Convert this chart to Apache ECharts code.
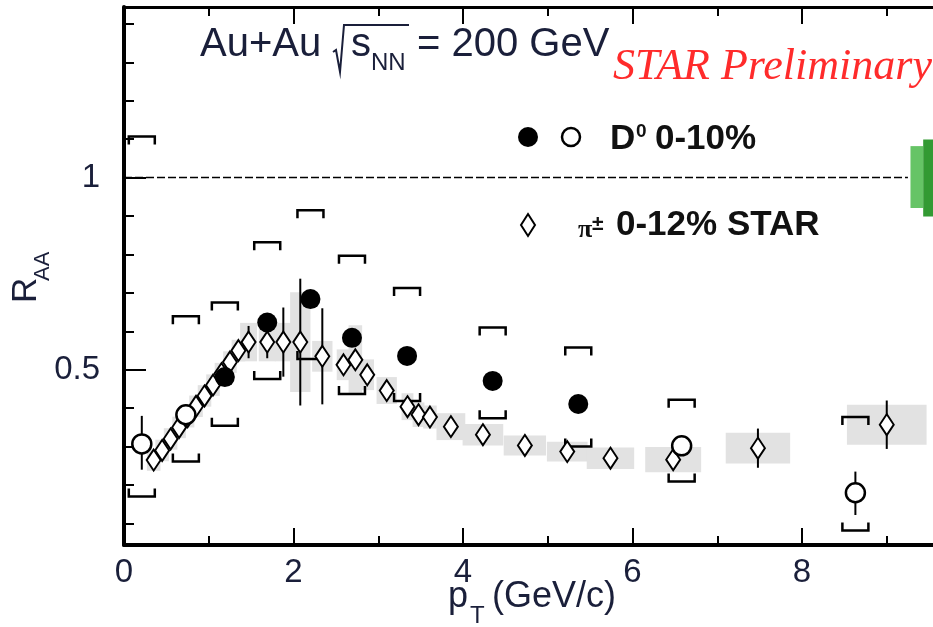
<!DOCTYPE html>
<html><head><meta charset="utf-8">
<script src="https://cdn.jsdelivr.net/npm/echarts@6/dist/echarts.min.js"></script>
<style>html,body{margin:0;padding:0;background:#fff}#c{width:933px;height:627px}</style>
</head><body><div id="c"></div>
<script>
// ---------------- data ----------------
const xTickLabels = [0, 2, 4, 6, 8];
const yMajorTicks = [0.5, 1];
const yMinorTicks = [0.1, 0.2, 0.3, 0.4, 0.6, 0.7, 0.8, 0.9, 1.1, 1.2, 1.3, 1.4];

// charged pions 0-12% (STAR)
const piX    = [0.35,0.45,0.55,0.65,0.75,0.85,0.95,1.05,1.15,1.25,1.35,1.47,1.69,1.88,2.08,2.34,2.59,2.73,2.87,3.10,3.345,3.475,3.61,3.857,4.235,4.73,5.23,5.74,6.48,7.48,9.0];
const piY    = [0.265,0.29,0.32,0.35,0.378,0.405,0.432,0.46,0.49,0.52,0.55,0.572,0.572,0.572,0.572,0.535,0.513,0.526,0.487,0.446,0.404,0.383,0.377,0.352,0.331,0.303,0.287,0.27,0.266,0.296,0.357];
const piStat = [0,0,0,0,0,0,0,0,0,0,0,0.042,0.042,0.09,0.165,0.125,0,0,0,0,0,0,0,0,0,0,0,0,0,0.051,0.063];
const piSys  = [0.028,0.028,0.028,0.028,0.028,0.028,0.028,0.028,0.028,0.028,0.028,0.05,0.05,0.05,0.13,0.04,0.04,0.09,0.04,0.035,0.035,0.032,0.03,0.035,0.028,0.026,0.026,0.028,0.033,0.04,0.052];
const piBinHalf = [0.08,0.08,0.08,0.08,0.08,0.08,0.08,0.08,0.08,0.08,0.08,0.1,0.1,0.1,0.12,0.12,0.08,0.08,0.08,0.12,0.07,0.07,0.08,0.17,0.24,0.25,0.24,0.28,0.33,0.38,0.47];

// D0 0-10%, filled points
const dX     = [1.19,1.69,2.20,2.69,3.34,4.35,5.36];
const dY     = [0.481,0.623,0.684,0.583,0.536,0.471,0.411];
const dSysLo = [0.354,0.476,0.528,0.437,0.419,0.374,0.300];
const dSysHi = [0.675,0.832,0.915,0.797,0.713,0.610,0.558];

// D0 0-10%, open points
const oX      = [0.21,0.73,6.58,8.63];
const oY      = [0.307,0.383,0.302,0.180];
const oStatLo = [0.240,0.383,0.302,0.122];
const oStatHi = [0.380,0.383,0.302,0.235];
const oSysLo  = [0.170,0.261,0.209,0.082];
const oSysHi  = [1.107,0.639,0.422,0.377];

// normalisation uncertainty boxes [x0, x1, y0, y1]
const normBoxes = [[9.28, 9.43, 0.921, 1.082], [9.43, 9.62, 0.899, 1.099]];
const normColors = ['#66c466', '#339a33'];

const refLine = [[0, 1], [9.25, 1]];

// ---------------- chart ----------------
const FONT = '"Liberation Sans", Arial, Helvetica, sans-serif';
const TXT = '#1a1f3a';
const chart = echarts.init(document.getElementById('c'), null, {renderer: 'canvas'});

const boxData = piX.map((x, i) => [x - piBinHalf[i], x + piBinHalf[i], piY[i] - piSys[i], piY[i] + piSys[i]]);
const normData = normBoxes.map((b, i) => ({value: b, itemStyle: {color: normColors[i]}}));
const piErrData = piX.map((x, i) => [x, piY[i] - piStat[i], piY[i] + piStat[i]]).filter((d, i) => piStat[i] > 0);
const oErrData = oX.map((x, i) => [x, oStatLo[i], oStatHi[i]]).filter(d => d[2] > d[1]);
const bracketData = dX.map((x, i) => [x, dSysLo[i], dSysHi[i]]).concat(oX.map((x, i) => [x, oSysLo[i], oSysHi[i]]));

function rectItem(params, api) {
  const p0 = api.coord([api.value(0), api.value(3)]);
  const p1 = api.coord([api.value(1), api.value(2)]);
  return {type: 'rect', shape: {x: p0[0], y: p0[1], width: p1[0] - p0[0], height: p1[1] - p0[1]},
          style: {fill: api.visual('color')}};
}
function errItem(params, api) {
  const a = api.coord([api.value(0), api.value(1)]);
  const b = api.coord([api.value(0), api.value(2)]);
  return {type: 'line', shape: {x1: a[0], y1: a[1], x2: b[0], y2: b[1]}, style: {stroke: '#000', lineWidth: 2}};
}
function bracketItem(params, api) {
  const lo = api.coord([api.value(0), api.value(1)]);
  const hi = api.coord([api.value(0), api.value(2)]);
  const w = 13, t = 8, cx = lo[0];
  return {type: 'group', children: [
    {type: 'polyline', shape: {points: [[cx - w, hi[1] + t], [cx - w, hi[1]], [cx + w, hi[1]], [cx + w, hi[1] + t]]},
     style: {stroke: '#000', lineWidth: 2.5, fill: null}},
    {type: 'polyline', shape: {points: [[cx - w, lo[1] - t], [cx - w, lo[1]], [cx + w, lo[1]], [cx + w, lo[1] - t]]},
     style: {stroke: '#000', lineWidth: 2.5, fill: null}}
  ]};
}

const xBase = {
  type: 'value', min: 0, max: 10, interval: 2,
  splitLine: {show: false},
  axisTick: {inside: true, length: 17, lineStyle: {color: '#000', width: 2}},
  minorTick: {show: true, splitNumber: 2, length: 9, lineStyle: {color: '#000', width: 2}},
};

const option = {
  animation: false,
  backgroundColor: '#fff',
  grid: {left: 124, top: 7, width: 847.5, height: 538, containLabel: false, outerBoundsMode: 'none'},
  xAxis: [
    Object.assign({}, xBase, {
      position: 'bottom',
      axisLine: {lineStyle: {color: '#000', width: 4}},
      axisLabel: {fontSize: 33, color: TXT, fontFamily: FONT, margin: 11,
                  formatter: v => (xTickLabels.indexOf(v) >= 0 ? String(v) : '')}
    }),
    Object.assign({}, xBase, {
      position: 'top',
      axisLine: {lineStyle: {color: '#000', width: 3}},
      axisLabel: {show: false}
    })
  ],
  yAxis: [
    {type: 'value', min: 0.044, max: 1.444, position: 'left',
     splitLine: {show: false},
     axisLine: {lineStyle: {color: '#000', width: 4}},
     axisTick: {inside: true, length: 22, customValues: yMajorTicks, lineStyle: {color: '#000', width: 2}},
     axisLabel: {customValues: yMajorTicks, fontSize: 33, color: TXT, fontFamily: FONT, margin: 24,
                 formatter: v => String(v)}},
    {type: 'value', min: 0.044, max: 1.444, position: 'left',
     splitLine: {show: false},
     axisLine: {show: false},
     axisTick: {inside: true, length: 10, customValues: yMinorTicks, lineStyle: {color: '#000', width: 2}},
     axisLabel: {show: false}}
  ],
  series: [
    {type: 'custom', name: 'pi sys', renderItem: rectItem, data: boxData, itemStyle: {color: '#e2e2e2'}, silent: true, z: 1},
    {type: 'custom', name: 'norm', renderItem: rectItem, data: normData, silent: true, z: 1},
    {type: 'line', name: 'unity', data: refLine, symbol: 'none', silent: true, z: 2,
     lineStyle: {color: '#000', width: 1.5, type: [8, 3]}},
    {type: 'custom', name: 'pi stat', renderItem: errItem, data: piErrData, silent: true, z: 3},
    {type: 'custom', name: 'D0 stat', renderItem: errItem, data: oErrData, silent: true, z: 3},
    {type: 'custom', name: 'D0 sys', renderItem: bracketItem, data: bracketData, silent: true, z: 4},
    {type: 'scatter', name: 'pi', data: piX.map((x, i) => [x, piY[i]]), symbol: 'diamond', symbolSize: [14, 21],
     itemStyle: {color: '#fff', borderColor: '#000', borderWidth: 2, opacity: 1}, z: 5},
    {type: 'scatter', name: 'D0 open', data: oX.map((x, i) => [x, oY[i]]), symbol: 'circle', symbolSize: 19,
     itemStyle: {color: '#fff', borderColor: '#000', borderWidth: 2.5, opacity: 1}, z: 6},
    {type: 'scatter', name: 'D0', data: dX.map((x, i) => [x, dY[i]]), symbol: 'circle', symbolSize: 20,
     itemStyle: {color: '#000', opacity: 1}, z: 6}
  ],
  graphic: [
    // header text
    {type: 'text', style: {text: 'Au+Au', x: 200, y: 45, font: '40px ' + FONT, fill: TXT, align: 'left', verticalAlign: 'middle'}},
    {type: 'polyline', shape: {points: [[333, 52], [336, 50], [340, 72], [344, 25], [409, 25]]}, style: {stroke: TXT, lineWidth: 2, fill: null}},
    {type: 'text', style: {text: 's', x: 351, y: 45, font: '40px ' + FONT, fill: TXT, align: 'left', verticalAlign: 'middle'}},
    {type: 'text', style: {text: 'NN', x: 371, y: 63, font: '24px ' + FONT, fill: TXT, align: 'left', verticalAlign: 'middle'}},
    {type: 'text', style: {text: '= 200 GeV', x: 417, y: 45, font: '40px ' + FONT, fill: TXT, align: 'left', verticalAlign: 'middle'}},
    {type: 'text', style: {text: 'STAR Preliminary', x: 613, y: 67, font: 'italic 44px "Liberation Serif", "Times New Roman", serif', fill: '#ff2b2b', align: 'left', verticalAlign: 'middle'}},
    // legend
    {type: 'circle', shape: {cx: 528, cy: 137, r: 10}, style: {fill: '#000'}},
    {type: 'circle', shape: {cx: 571, cy: 137, r: 9}, style: {fill: '#fff', stroke: '#000', lineWidth: 2.5}},
    {type: 'text', style: {text: 'D', x: 610, y: 139, font: 'bold 35px ' + FONT, fill: '#111', align: 'left', verticalAlign: 'middle'}},
    {type: 'text', style: {text: '0', x: 636, y: 132, font: 'bold 19px ' + FONT, fill: '#111', align: 'left', verticalAlign: 'middle'}},
    {type: 'text', style: {text: '0-10%', x: 655, y: 139, font: 'bold 35px ' + FONT, fill: '#111', align: 'left', verticalAlign: 'middle'}},
    {type: 'polygon', shape: {points: [[528, 214], [535, 225], [528, 236], [521, 225]]}, style: {fill: '#fff', stroke: '#000', lineWidth: 2}},
    {type: 'text', style: {text: 'π', x: 578, y: 230, font: 'bold 26px "Liberation Serif", serif', fill: '#111', align: 'left', verticalAlign: 'middle'}},
    {type: 'text', style: {text: '±', x: 592, y: 224, font: 'bold 21px ' + FONT, fill: '#111', align: 'left', verticalAlign: 'middle'}},
    {type: 'text', style: {text: '0-12% STAR', x: 616, y: 225, font: 'bold 35px ' + FONT, fill: '#111', align: 'left', verticalAlign: 'middle'}},
    // x axis title
    {type: 'text', style: {text: 'p', x: 448, y: 597, font: '36px ' + FONT, fill: TXT, align: 'left', verticalAlign: 'middle'}},
    {type: 'text', style: {text: 'T', x: 470, y: 616, font: '24px ' + FONT, fill: TXT, align: 'left', verticalAlign: 'middle'}},
    {type: 'text', style: {text: '(GeV/c)', x: 492, y: 597, font: '36px ' + FONT, fill: TXT, align: 'left', verticalAlign: 'middle'}},
    // y axis title
    {type: 'group', x: 26, y: 303, rotation: Math.PI / 2, children: [
      {type: 'text', style: {text: 'R', x: 0, y: 0, font: '35px ' + FONT, fill: TXT, align: 'left', verticalAlign: 'middle'}},
      {type: 'text', style: {text: 'AA', x: 22, y: 17, font: '22px ' + FONT, fill: TXT, align: 'left', verticalAlign: 'middle'}}
    ]}
  ]
};
chart.setOption(option);
</script>
</body></html>
